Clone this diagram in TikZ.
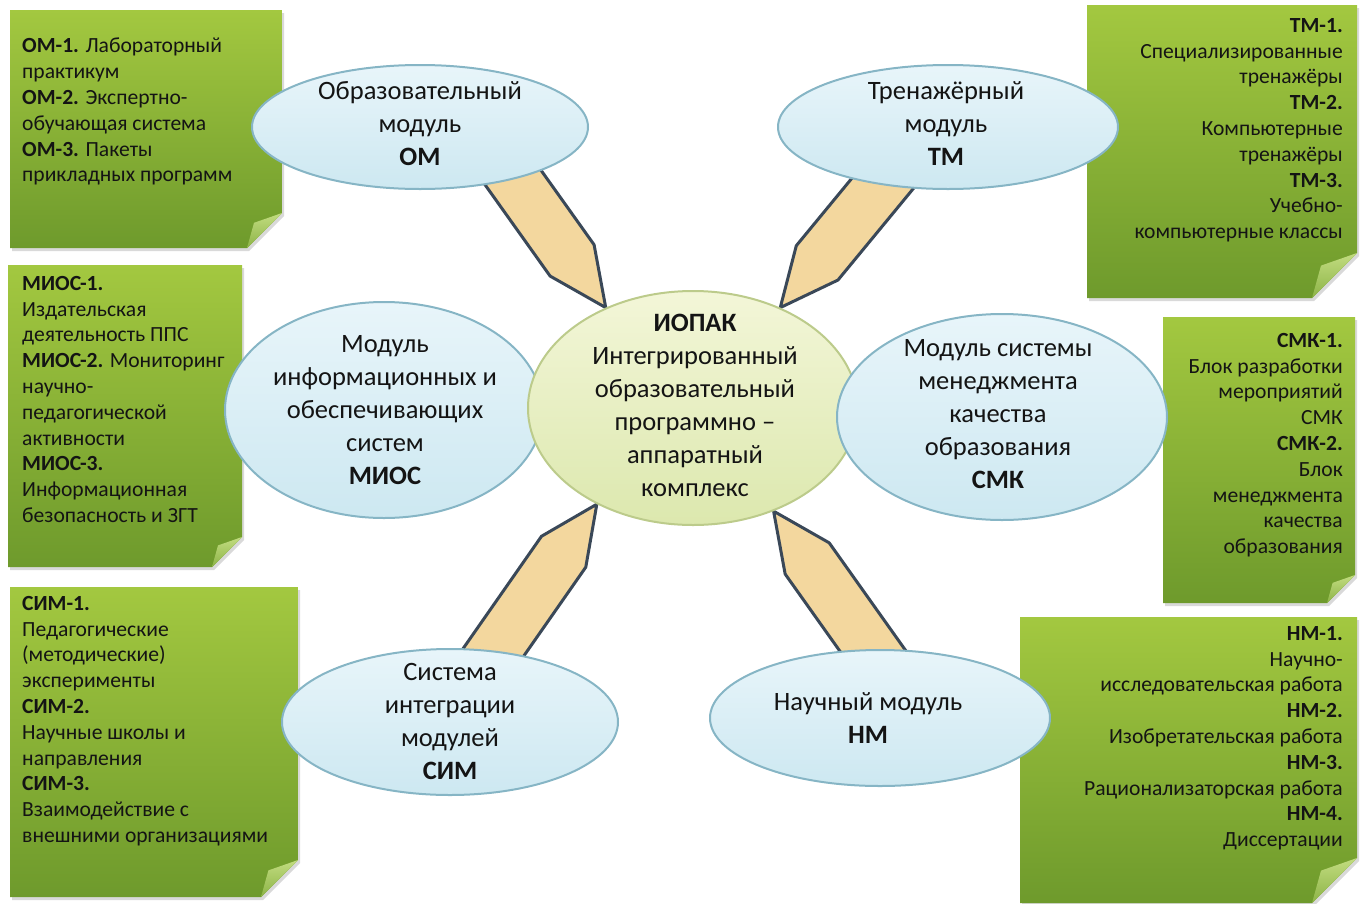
\documentclass[tikz,border=0pt]{standalone}
\usepackage{fontspec}
\setmainfont{Carlito}
\usetikzlibrary{shapes.geometric,calc,shadows,backgrounds}

\definecolor{notetop}{HTML}{A3C840}
\definecolor{notebot}{HTML}{6E9A2C}
\definecolor{flaptop}{HTML}{C2DC80}
\definecolor{flapbot}{HTML}{8DB447}
\definecolor{modtop}{HTML}{E8F5FA}
\definecolor{modbot}{HTML}{CDE8F1}
\definecolor{modline}{HTML}{86B5C5}
\definecolor{coretop}{HTML}{F3F6D8}
\definecolor{corebot}{HTML}{DCE8AE}
\definecolor{coreline}{HTML}{BCCB8B}
\definecolor{pencilfill}{HTML}{F3D79E}
\definecolor{pencilline}{HTML}{3A4858}
\definecolor{txt}{HTML}{141414}

\newcommand{\notefont}{\fontsize{21.6}{25.8}\selectfont}
\newcommand{\modfont}{\fontsize{26.5}{33}\selectfont}

% sticky note: x1, y1, x2, y2, fold
\newcommand{\stickynote}[5]{%
  \path[note] (#1,#2) -- (#3,#2) -- (#3,#4-#5) -- (#3-#5,#4) -- (#1,#4) -- cycle;
  \path[flap] (#3,#4-#5) -- (#3-#5,#4) -- (#3-0.8*#5,#4-0.72*#5) -- cycle;}

% pencil from base point to tip point
\newcommand{\pencil}[2]{%
  \coordinate (bs) at ($(#1)!-24pt!(#2)$);
  \coordinate (sh) at ($(#2)!58pt!(#1)$);
  \path[pencil] ($(bs)!27pt!90:(#2)$) -- ($(sh)!27pt!-90:(bs)$) -- (#2)
    -- ($(sh)!27pt!90:(bs)$) -- ($(bs)!27pt!-90:(#2)$) -- cycle;}

\begin{document}
\begin{tikzpicture}[x=1pt,y=-1pt,
  note/.style={top color=notetop,bottom color=notebot,
    drop shadow={opacity=0.3,shadow xshift=2pt,shadow yshift=-3pt}},
  flap/.style={top color=flaptop,bottom color=flapbot},
  notetext/.style={font=\notefont,text=txt,inner sep=0pt},
  modul/.style={ellipse,draw=modline,line width=2pt,top color=modtop,bottom color=modbot,inner sep=0pt},
  core/.style={ellipse,draw=coreline,line width=2pt,top color=coretop,bottom color=corebot,inner sep=0pt},
  modtext/.style={font=\modfont,text=txt,align=center,inner sep=0pt},
  pencil/.style={fill=pencilfill,draw=pencilline,line width=3pt,line join=round}]

\useasboundingbox (0,0) rectangle (1361,903);

% notes
\stickynote{10}{10}{282}{248}{35}
\stickynote{1087}{5}{1357}{298}{45}
\stickynote{8}{265}{242}{567}{30}
\stickynote{1163}{317}{1355}{603}{28}
\stickynote{10}{587}{298}{897}{37}
\stickynote{1020}{617}{1357}{903}{45}

\node[notetext,align=left,anchor=north west] (omnote) at (22,38)
  {\textbf{ОМ-1.} Лабораторный\\ практикум\\ \textbf{ОМ-2.} Экспертно-\\ обучающая система\\ \textbf{ОМ-3.} Пакеты\\ прикладных программ};
\node[notetext,align=right,anchor=north east] (tmnote) at (1343,18)
  {\textbf{ТМ-1.}\\ Специализированные\\ тренажёры\\ \textbf{ТМ-2.}\\ Компьютерные\\ тренажёры\\ \textbf{ТМ-3.}\\ Учебно-\\ компьютерные классы};
\node[notetext,align=left,anchor=north west] (miosnote) at (22,276)
  {\textbf{МИОС-1.}\\ Издательская\\ деятельность ППС\\ \textbf{МИОС-2.} Мониторинг\\ научно-\\ педагогической\\ активности\\ \textbf{МИОС-3.}\\ Информационная\\ безопасность и ЗГТ};
\node[notetext,align=right,anchor=north east] (smknote) at (1343,333)
  {\textbf{СМК-1.}\\ Блок разработки\\ мероприятий\\ СМК\\ \textbf{СМК-2.}\\ Блок\\ менеджмента\\ качества\\ образования};
\node[notetext,align=left,anchor=north west] (simnote) at (22,596)
  {\textbf{СИМ-1.}\\ Педагогические\\ (методические)\\ эксперименты\\ \textbf{СИМ-2.}\\ Научные школы и\\ направления\\ \textbf{СИМ-3.}\\ Взаимодействие с\\ внешними организациями};
\node[notetext,align=right,anchor=north east] (nmnote) at (1343,626)
  {\textbf{НМ-1.}\\ Научно-\\ исследовательская работа\\ \textbf{НМ-2.}\\ Изобретательская работа\\ \textbf{НМ-3.}\\ Рационализаторская работа\\ \textbf{НМ-4.}\\ Диссертации};

% modules
\node[modul,minimum width=336pt,minimum height=124pt] (om) at (420,127) {};
\node[modul,minimum width=340pt,minimum height=124pt] (tm) at (948,127) {};
\node[modul,minimum width=318pt,minimum height=216pt] (mios) at (384,410) {};
\node[core,minimum width=330pt,minimum height=234pt] (iopak) at (693,408) {};
\node[modul,minimum width=330pt,minimum height=206pt] (smk) at (1002,417) {};
\node[modul,minimum width=336pt,minimum height=146pt] (sim) at (450,722) {};
\node[modul,minimum width=340pt,minimum height=136pt] (nm) at (880,718) {};

% pencils
\begin{scope}[on background layer]
\pencil{om.-29}{iopak.131}
\pencil{tm.221}{iopak.49}
\pencil{sim.58}{iopak.225}
\pencil{nm.97}{iopak.-52}
\end{scope}

\node[modtext] (omtext) at (420,124) {Образовательный\\ модуль\\ \textbf{ОМ}};
\node[modtext] (tmtext) at (946,124) {Тренажёрный\\ модуль\\ \textbf{ТМ}};
\node[modtext] (miostext) at (385,410) {Модуль\\ информационных и\\ обеспечивающих\\ систем\\ \textbf{МИОС}};
\node[modtext] (iopaktext) at (695,405) {\textbf{ИОПАК}\\ Интегрированный\\ образовательный\\ программно –\\ аппаратный\\ комплекс};
\node[modtext] (smktext) at (998,414) {Модуль системы\\ менеджмента\\ качества\\ образования\\ \textbf{СМК}};
\node[modtext] (simtext) at (450,721) {Система\\ интеграции\\ модулей\\ \textbf{СИМ}};
\node[modtext] (nmtext) at (868,718) {Научный модуль\\ \textbf{НМ}};

\end{tikzpicture}
\end{document}
